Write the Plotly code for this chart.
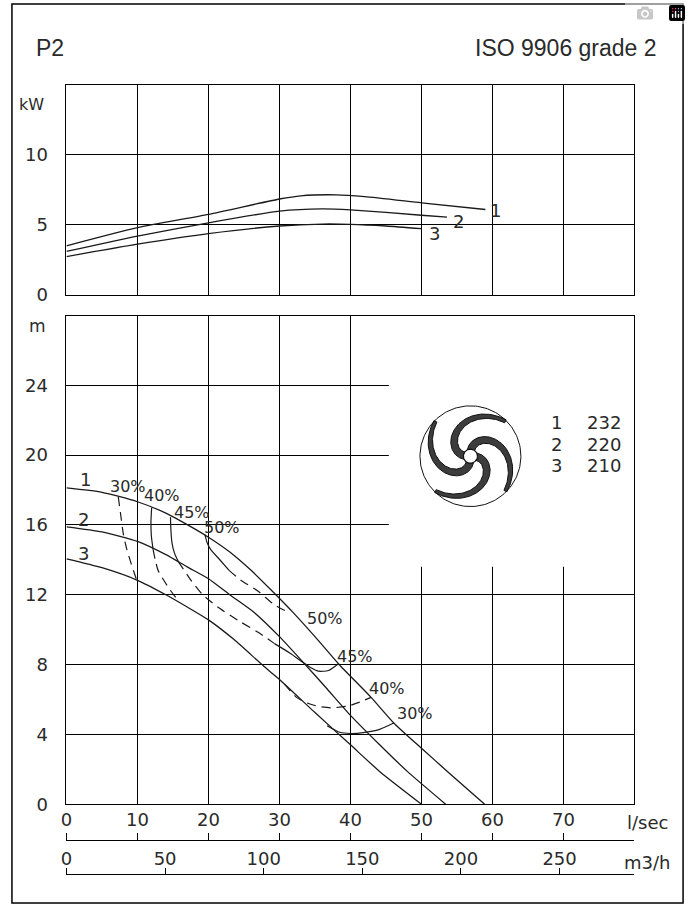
import numpy as np
import plotly.graph_objects as go

W, H = 691, 923
FONT = "DejaVu Sans"
TXT = "#2a2a2a"
LC = "#1a1a1a"

# ---------------- data ----------------
# P2 power curves (l/sec, kW)
p1_q = [0, 10, 20, 30, 33, 38, 42, 50, 59]
p1_kw = [3.5, 4.8, 5.75, 6.85, 7.08, 7.15, 7.02, 6.58, 6.1]
p2_q = [0, 10, 20, 30, 36, 40, 50, 53.6]
p2_kw = [3.1, 4.2, 5.15, 5.98, 6.14, 6.07, 5.69, 5.55]
p3_q = [0, 10, 20, 30, 36, 40, 45, 50]
p3_kw = [2.73, 3.62, 4.38, 4.92, 5.06, 5.04, 4.92, 4.73]

# Head curves (l/sec, m)
h1_q = [0, 5, 10, 14, 17, 20, 23, 26, 29, 32, 35, 38.3, 42.9, 46.2, 50, 54, 58.9]
h1_m = [18.12, 17.87, 17.33, 16.68, 16.02, 15.3, 14.45, 13.4, 12.2, 10.95, 9.6, 8.05, 6.12, 4.61, 3.2, 1.75, 0]
h2_q = [0, 5, 10, 14, 17, 20, 23, 26.4, 30, 33.4, 36.5, 40, 44, 48, 53.4]
h2_m = [15.89, 15.6, 15.06, 14.3, 13.6, 12.92, 12.0, 11.0, 9.6, 8.1, 6.7, 5.09, 3.45, 1.88, 0]
h3_q = [0, 5, 10, 14, 17, 20, 23.6, 27.8, 30, 35, 40, 44.1, 50]
h3_m = [14.06, 13.55, 12.83, 12.0, 11.3, 10.56, 9.43, 7.9, 7.15, 5.25, 3.4, 1.88, 0]

# Efficiency iso-lines (solid / dashed parts)
e30l_dash_q = [7.3, 7.6, 8.0, 8.5, 9.1, 9.9]
e30l_dash_m = [17.6, 16.7, 15.5, 14.6, 13.8, 12.83]
e40l_solid_q = [12.0, 11.9, 11.95, 12.2]
e40l_solid_m = [17.0, 16.2, 15.4, 14.6]
e40l_dash_q = [12.2, 12.5, 12.9, 13.6, 14.3, 15.1, 15.9]
e40l_dash_m = [14.6, 14.0, 13.4, 12.9, 12.45, 12.0, 11.6]
e45_solid1_q = [14.65, 14.7, 14.85, 15.2, 15.75]
e45_solid1_m = [16.45, 15.8, 15.0, 14.4, 13.9]
e45_dash_q = [15.75, 17.6, 19.2, 21.3, 24.5, 27.0, 29.3]
e45_dash_m = [13.9, 12.8, 12.0, 11.3, 10.45, 9.85, 9.2]
e45_solid2_q = [29.3, 31.5, 33.4, 34.5, 35.5, 36.9, 38.3]
e45_solid2_m = [9.2, 8.65, 8.1, 7.8, 7.62, 7.66, 8.05]
e50_solid_q = [19.5, 19.8, 20.3, 21.5, 22.9]
e50_solid_m = [15.45, 15.0, 14.6, 14.05, 13.4]
e50_dash_q = [22.9, 24.5, 27.0, 29.2, 31.5]
e50_dash_m = [13.4, 12.85, 12.2, 11.45, 10.94]
e40r_dash_q = [30.7, 32.4, 33.9, 35.5, 37.3, 39.6, 41.3, 42.9]
e40r_dash_m = [6.88, 6.12, 5.8, 5.6, 5.52, 5.62, 5.85, 6.12]
e30r_solid_q = [36.7, 38.5, 40.0, 41.8, 44.1, 46.1]
e30r_solid_m = [4.5, 4.12, 4.05, 4.1, 4.29, 4.65]

# Labels
pw_label_text = ["1", "2", "3"]
pw_label_q = [60.4, 55.2, 51.9]
pw_label_kw = [6.0, 5.25, 4.35]
hd_label_text = ["1", "2", "3"]
hd_label_q = [2.7, 2.45, 2.45]
hd_label_m = [18.63, 16.32, 14.38]
eff_label_text = ["30%", "40%", "45%", "50%", "50%", "45%", "40%", "30%"]
eff_label_q = [8.6, 13.4, 17.7, 21.9, 36.4, 40.7, 45.1, 49.1]
eff_label_m = [18.2, 17.7, 16.7, 15.85, 10.64, 8.49, 6.65, 5.18]

impeller_no = ["1", "2", "3"]
impeller_dia = ["232", "220", "210"]

lps_ticks = [0, 10, 20, 30, 40, 50, 60, 70]
m3h_ticks = [0, 50, 100, 150, 200, 250]
kw_ticks = [0, 5, 10]
m_ticks = [0, 4, 8, 12, 16, 20, 24]

# ---------------- geometry (pixels) ----------------
PL, PR = 61, 634
TOP_T, TOP_B = 86, 298
BOT_T, BOT_B = 319, 813
px = lambda v: v / W
py = lambda v: 1 - v / H

fig = go.Figure()

def line(q, v, ax, dash="solid", width=1.3):
    xa, ya = ax
    fig.add_trace(go.Scatter(x=q, y=v, mode="lines", xaxis=xa, yaxis=ya,
                             line=dict(color=LC, width=width, dash=dash, shape="spline", smoothing=0.6),
                             hoverinfo="skip", showlegend=False))

for q, v in [(p1_q, p1_kw), (p2_q, p2_kw), (p3_q, p3_kw)]:
    line(q, v, ("x", "y"))
for q, v in [(h1_q, h1_m), (h2_q, h2_m), (h3_q, h3_m)]:
    line(q, v, ("x2", "y2"))

DASH = "9px,6px"
for q, v, d in [
    (e30l_dash_q, e30l_dash_m, DASH),
    (e40l_solid_q, e40l_solid_m, "solid"),
    (e40l_dash_q, e40l_dash_m, DASH),
    (e45_solid1_q, e45_solid1_m, "solid"),
    (e45_dash_q, e45_dash_m, DASH),
    (e45_solid2_q, e45_solid2_m, "solid"),
    (e50_solid_q, e50_solid_m, "solid"),
    (e50_dash_q, e50_dash_m, DASH),
    (e40r_dash_q, e40r_dash_m, DASH),
    (e30r_solid_q, e30r_solid_m, "solid"),
]:
    line(q, v, ("x2", "y2"), dash=d, width=1.2)

# dummy traces so secondary axes are drawn
fig.add_trace(go.Scatter(x=[], y=[], xaxis="x3", yaxis="y2", showlegend=False, hoverinfo="skip"))
fig.add_trace(go.Scatter(x=[], y=[], xaxis="x4", yaxis="y2", showlegend=False, hoverinfo="skip"))

# ---------------- impeller icon (decorative, on its own axes) ----------------
def vane(phi_deg):
    t = np.linspace(0, 1, 100)
    r = 0.12 + 0.86 * t
    th = np.radians(phi_deg) - np.radians(130) * t ** 1.25
    cx, cy = r * np.cos(th), r * np.sin(th)
    dx, dy = np.gradient(cx), np.gradient(cy)
    n = np.hypot(dx, dy)
    nx, ny = -dy / n, dx / n
    w = 0.072 - 0.04 * t ** 2
    xs = np.concatenate([cx + w * nx, (cx - w * nx)[::-1], [cx[0] + w[0] * nx[0]]])
    ys = np.concatenate([cy + w * ny, (cy - w * ny)[::-1], [cy[0] + w[0] * ny[0]]])
    return xs, ys

for phi in [85, -5, -95, 175]:
    xs, ys = vane(phi)
    fig.add_trace(go.Scatter(x=xs, y=ys, mode="lines", fill="toself", fillcolor="#3c3c3c",
                             line=dict(color="#111", width=1), xaxis="x5", yaxis="y5",
                             hoverinfo="skip", showlegend=False))
ang = np.linspace(0, 2 * np.pi, 181)
fig.add_trace(go.Scatter(x=np.cos(ang), y=np.sin(ang), mode="lines", line=dict(color="#111", width=1),
                         xaxis="x5", yaxis="y5", hoverinfo="skip", showlegend=False))
fig.add_trace(go.Scatter(x=0.14 * np.cos(ang), y=0.14 * np.sin(ang), mode="lines", fill="toself",
                         fillcolor="white", line=dict(color="#111", width=1.2),
                         xaxis="x5", yaxis="y5", hoverinfo="skip", showlegend=False))

# ---------------- axes ----------------
tickfont = dict(family=FONT, size=18, color=TXT)
common_x = dict(domain=[px(PL), px(PR)], range=[0, 80], tickvals=list(range(0, 81, 10)),
                showgrid=True, gridcolor="black", gridwidth=1, showticklabels=False,
                ticks="", showline=True, mirror=True, linecolor="black", linewidth=1,
                zeroline=False, fixedrange=True)
fig.update_layout(
    xaxis=dict(anchor="y", **common_x),
    yaxis=dict(domain=[py(TOP_B), py(TOP_T)], range=[0, 15], tickvals=kw_ticks,
               ticktext=[str(v) for v in kw_ticks], showgrid=True, gridcolor="black", gridwidth=1,
               showline=True, mirror=True, linecolor="black", linewidth=1, zeroline=False,
               ticks="", ticklabelstandoff=14, tickfont=tickfont, anchor="x", fixedrange=True),
    xaxis2=dict(anchor="y2", **common_x),
    yaxis2=dict(domain=[py(BOT_B), py(BOT_T)], range=[0, 28], tickvals=m_ticks,
                ticktext=[str(v) for v in m_ticks], showgrid=True, gridcolor="black", gridwidth=1,
                showline=True, mirror=True, linecolor="black", linewidth=1, zeroline=False,
                ticks="", ticklabelstandoff=14, tickfont=tickfont, anchor="x2", fixedrange=True),
    xaxis3=dict(overlaying="x2", anchor="free", position=py(849), side="top", range=[0, 80],
                tickvals=lps_ticks, ticktext=[str(v) for v in lps_ticks], ticks="outside",
                ticklen=7, tickcolor="black", tickwidth=1, showline=True, linecolor="black",
                linewidth=1, showgrid=False, zeroline=False, tickfont=tickfont, fixedrange=True),
    xaxis4=dict(overlaying="x2", anchor="free", position=py(884), side="top", range=[0, 80 * 3.6],
                tickvals=m3h_ticks, ticktext=[str(v) for v in m3h_ticks], ticks="outside",
                ticklen=6, tickcolor="black", tickwidth=1, showline=True, linecolor="black",
                linewidth=1, showgrid=False, zeroline=False, tickfont=tickfont,
                ticklabelstandoff=-4, fixedrange=True),
    xaxis5=dict(domain=[px(412.5), px(524.5)], range=[-1.1, 1.1], visible=False, anchor="y5",
                fixedrange=True),
    yaxis5=dict(domain=[py(517.2), py(405.2)], range=[-1.1, 1.1], visible=False, anchor="x5",
                fixedrange=True),
)

# ---------------- shapes ----------------
shapes = [
    dict(type="rect", xref="x2", yref="y2", x0=45.4, x1=80, y0=13.6, y1=28,
         fillcolor="white", line=dict(width=0), layer="between"),
    dict(type="rect", xref="paper", yref="paper", x0=px(6), x1=px(683), y0=py(913), y1=py(4),
         line=dict(color="black", width=1.5), fillcolor="rgba(0,0,0,0)"),
]

# ---------------- annotations ----------------
ann = []
def txt(x, y, s, xref, yref, size=18, family=FONT, xanchor="center"):
    ann.append(dict(x=x, y=y, xref=xref, yref=yref, text=s, showarrow=False, xanchor=xanchor,
                    yanchor="middle", borderpad=0,
                    font=dict(family=family, size=size, color=TXT)))

txt(px(29), py(49), "P2", "paper", "paper", size=23, family="Liberation Sans", xanchor="left")
txt(px(658), py(49), "ISO 9906 grade 2", "paper", "paper", size=23, family="Liberation Sans", xanchor="right")
txt(px(26), py(106), "kW", "paper", "paper", size=16)
txt(px(32), py(330), "m", "paper", "paper", size=17)
txt(px(647), py(832), "l/sec", "paper", "paper", size=18)
txt(px(647), py(872), "m3/h", "paper", "paper", size=18)

for s, q, v in zip(pw_label_text, pw_label_q, pw_label_kw):
    txt(q, v, s, "x", "y")
for s, q, v in zip(hd_label_text, hd_label_q, hd_label_m):
    txt(q, v, s, "x2", "y2")
for s, q, v in zip(eff_label_text, eff_label_q, eff_label_m):
    txt(q, v, s, "x2", "y2", size=16)

for i, (n, d) in enumerate(zip(impeller_no, impeller_dia)):
    yy = 427 + 22 * i
    txt(px(555), py(yy), n, "paper", "paper")
    txt(px(603), py(yy), d, "paper", "paper")

fig.update_layout(
    width=W, height=H, margin=dict(l=0, r=0, t=0, b=0),
    paper_bgcolor="white", plot_bgcolor="white",
    shapes=shapes, annotations=ann, showlegend=False,
)

fig.write_html(
    "out.html",
    post_script="document.documentElement.style.margin='0px';document.body.style.margin='0px';"
                "document.body.style.overflow='hidden';",
)
